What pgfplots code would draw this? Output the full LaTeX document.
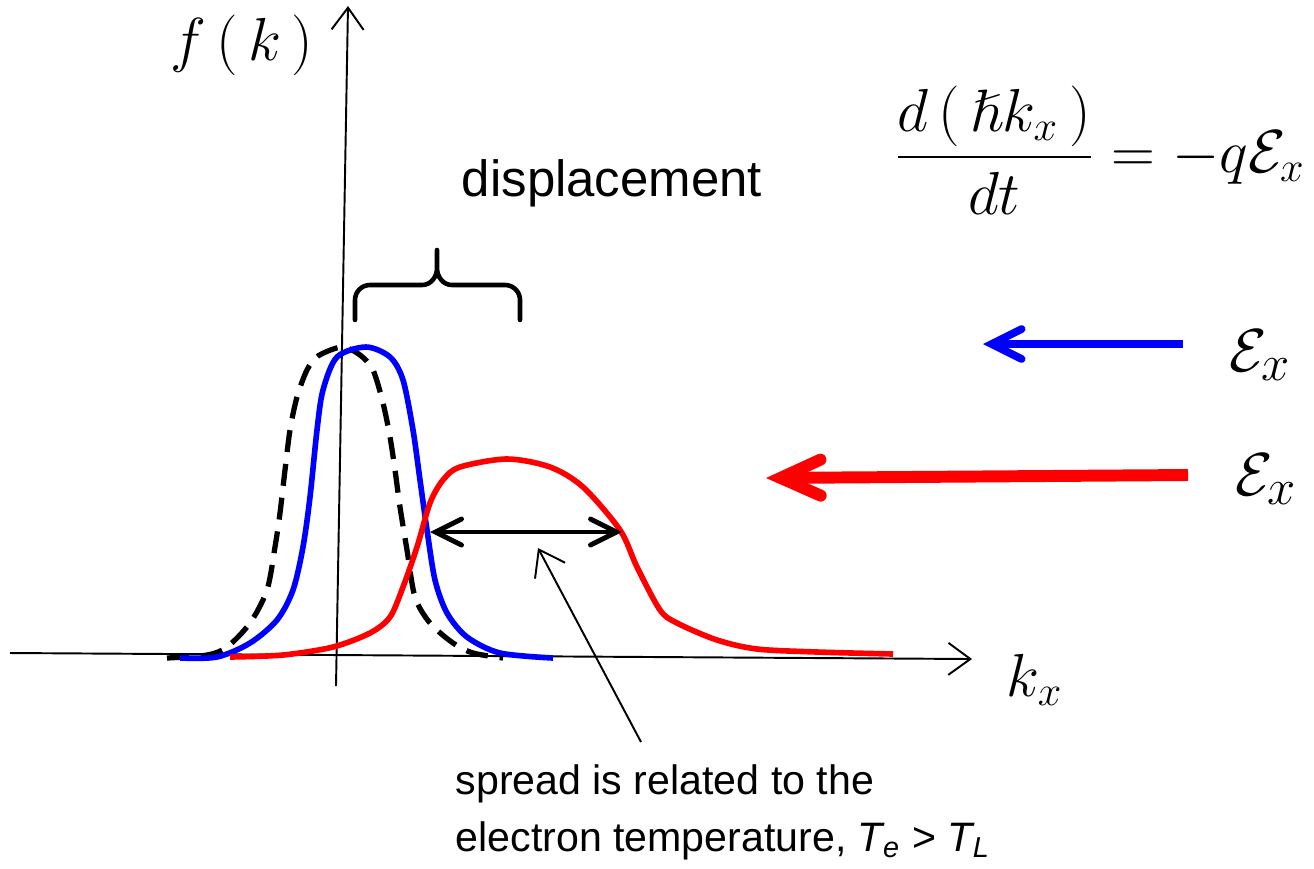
\documentclass[border=0pt]{standalone}
\usepackage{pgfplots}
\pgfplotsset{compat=1.18}
\usepackage{amssymb}
\usepackage{fontspec}
\setmainfont{Liberation Sans}
\usetikzlibrary{arrows.meta}

\begin{document}
\begin{tikzpicture}
  \begin{axis}[
      scale only axis,
      width=13.14cm, height=8.68cm,
      xmin=0, xmax=1314,
      ymin=0, ymax=868,
      y dir=reverse,% pixel coordinates, y downwards
      hide axis,
      clip=false
    ]

    % axes
    \draw[line width=0.55pt, -{Straight Barb[length=2.2mm,width=3.2mm]}]
      (10,653) -- (972,659);
    \draw[line width=0.55pt, -{Straight Barb[length=2.2mm,width=3.2mm]}]
      (336,686) -- (348,6);

    % equilibrium distribution (dashed)
    \addplot[black, line width=1.5pt, dash pattern=on 2.2mm off 1.2mm, smooth]
    coordinates {
      (167,658) (207,655) (227,647) (250,623) (267,590) (275,547)
      (280,513) (285,470) (290,430) (297,397) (307,370) (318,356)
      (342,347) (360,355) (373,370) (383,403) (390,437) (395,470)
      (400,507) (407,550) (415,597) (430,623) (453,643) (473,653)
      (503,658)
    };

    % small field: displaced distribution
    \addplot[blue, line width=1.6pt, smooth]
    coordinates {
      (180,658) (217,657) (250,643) (277,620) (293,590) (303,547)
      (310,497) (317,430) (323,390) (337,357) (366,347) (390,357)
      (403,380) (413,430) (420,480) (427,530) (435,580) (447,613)
      (467,637) (500,653) (553,658)
    };

    % large field: displaced and broadened
    \addplot[red, line width=1.6pt, smooth]
    coordinates {
      (230,657) (283,655) (333,647) (370,633) (390,617) (403,587)
      (417,547) (430,503) (443,480) (460,467) (507,459) (550,467)
      (583,487) (620,530) (637,567) (660,610) (677,623) (717,640)
      (757,649) (817,652) (893,654)
    };

    % brace for the displacement
    \draw[line width=1.3pt, line cap=round, line join=round]
      (355,320) -- (355,300) to[out=90,in=180] (370,285) -- (422,285)
      to[out=0,in=-90] (437,268) -- (437,250)
      (437,268) to[out=-90,in=180] (452,285) -- (505,285)
      to[out=0,in=90] (520,300) -- (520,320);

    % spread arrow
    \draw[line width=1.4pt,
      {Straight Barb[length=2.6mm,width=2.6mm,line cap=round]}-{Straight Barb[length=2.6mm,width=2.6mm,line cap=round]}]
      (430,532) -- (622,532);
    \draw[line width=0.55pt, -{Straight Barb[length=2.4mm,width=3.4mm]}]
      (641,742) -- (538,548);

    % field arrows
    \draw[blue, line width=2.2pt, -{Straight Barb[length=3mm,width=3mm,line cap=round]}]
      (1183,344) -- (983,344);
    \draw[red, line width=3.4pt, -{Straight Barb[length=4mm,width=3.6mm,line cap=round]}]
      (1188,475) -- (766,478);

    % labels
    \node at (242,45) {\fontsize{18}{20}\selectfont $f\,\Bigl(\,k\,\Bigr)$};
    \node at (1035,680) {\fontsize{18}{20}\selectfont $k_x$};
    \node[anchor=east, inner sep=0pt] at (1306,150) {\fontsize{17}{20}\selectfont
      $\displaystyle\frac{d\,\Bigl(\,\hslash k_x\,\Bigr)}{dt}=-q\mathcal{E}_x$};
    \node at (1260,355) {\fontsize{19}{20}\selectfont $\mathcal{E}_x$};
    \node at (1266,479) {\fontsize{19}{20}\selectfont $\mathcal{E}_x$};
    \node at (612,183) {\fontsize{14.5}{17}\selectfont displacement};
    \node[anchor=north west, align=left, inner sep=0pt,
      font=\fontsize{11.7}{16.2}\selectfont] at (455,764)
      {spread is related to the\\
       electron temperature, \textit{T\textsubscript{e}} > \textit{T\textsubscript{L}}};
  \end{axis}
  \pgfresetboundingbox
  \path (current axis.south west) rectangle (current axis.north east);
\end{tikzpicture}
\end{document}
